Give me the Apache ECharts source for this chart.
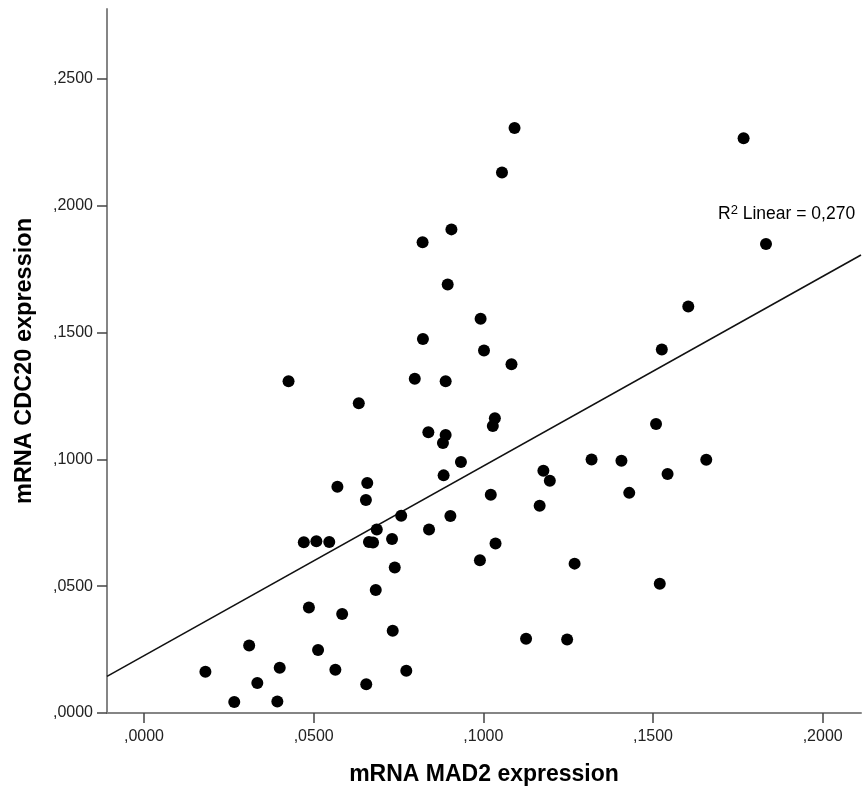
<!DOCTYPE html>
<html>
<head>
<meta charset="utf-8">
<title>mRNA MAD2 vs CDC20 expression</title>
<script src="https://cdn.jsdelivr.net/npm/echarts@6/dist/echarts.min.js"></script>
<style>
  html, body { margin: 0; padding: 0; background: #ffffff; }
  #chart { width: 864px; height: 792px; }
</style>
</head>
<body>
<div id="chart"></div>
<script>
// Sample measurements: MAD2 (x) and CDC20 (y) relative mRNA expression
const mad2 = [
  0.1092, 0.1767, 0.1055, 0.1833, 0.0906, 0.0821, 0.0895, 0.1604, 0.0992, 0.0822,
  0.1002, 0.1526, 0.1083, 0.0426, 0.0633, 0.0798, 0.0889, 0.1034, 0.1028, 0.0838,
  0.0889, 0.0881, 0.1509, 0.0934, 0.0883, 0.1319, 0.1407, 0.1657, 0.1543, 0.1177,
  0.1196, 0.1430, 0.1022, 0.1166, 0.0758, 0.0903, 0.0570, 0.0658, 0.0654, 0.0686,
  0.0840, 0.0471, 0.0508, 0.0546, 0.0663, 0.0675, 0.0731, 0.1036, 0.0990, 0.1269,
  0.0739, 0.1520, 0.0683, 0.0486, 0.0584, 0.0733, 0.1126, 0.1247, 0.0310, 0.0513,
  0.0400, 0.0181, 0.0564, 0.0773, 0.0334, 0.0655, 0.0266, 0.0393
];
const cdc20 = [
  0.2307, 0.2266, 0.2131, 0.1849, 0.1907, 0.1856, 0.1690, 0.1603, 0.1555, 0.1475,
  0.1429, 0.1433, 0.1375, 0.1308, 0.1221, 0.1318, 0.1308, 0.1162, 0.1132, 0.1107,
  0.1096, 0.1065, 0.1140, 0.0990, 0.0937, 0.1000, 0.0995, 0.0999, 0.0942, 0.0955,
  0.0916, 0.0868, 0.0861, 0.0817, 0.0778, 0.0777, 0.0892, 0.0907, 0.0840, 0.0724,
  0.0724, 0.0673, 0.0677, 0.0674, 0.0674, 0.0672, 0.0686, 0.0668, 0.0602, 0.0589,
  0.0574, 0.0510, 0.0485, 0.0416, 0.0390, 0.0324, 0.0293, 0.0290, 0.0266, 0.0248,
  0.0178, 0.0163, 0.0171, 0.0167, 0.0118, 0.0113, 0.0043, 0.0045
];

// Axis ranges and tick marks
const xRange = [-0.0109, 0.2113];
const yRange = [0, 0.2776];
const xTicks = [0, 0.05, 0.10, 0.15, 0.20];
const xTickLabels = [',0000', ',0500', ',1000', ',1500', ',2000'];
const yTicks = [0, 0.05, 0.10, 0.15, 0.20, 0.25];
const yTickLabels = [',0000', ',0500', ',1000', ',1500', ',2000', ',2500'];

const xTitle = 'mRNA MAD2 expression';
const yTitle = 'mRNA CDC20 expression';
const r2Text = '0,270';

// Ordinary least squares fit of CDC20 on MAD2
function linearFit(xs, ys) {
  const n = xs.length;
  let sx = 0, sy = 0;
  for (let i = 0; i < n; i++) { sx += xs[i]; sy += ys[i]; }
  const mx = sx / n, my = sy / n;
  let sxy = 0, sxx = 0;
  for (let i = 0; i < n; i++) {
    sxy += (xs[i] - mx) * (ys[i] - my);
    sxx += (xs[i] - mx) * (xs[i] - mx);
  }
  const slope = sxy / sxx;
  return { slope: slope, intercept: my - slope * mx };
}
const fit = linearFit(mad2, cdc20);
const fitLine = xRange.map(function (x) { return [x, fit.intercept + fit.slope * x]; });

const points = mad2.map(function (x, i) { return [x, cdc20[i]]; });

function tickFormatter(ticks, labels) {
  return function (v) {
    for (let i = 0; i < ticks.length; i++) {
      if (Math.abs(ticks[i] - v) < 1e-9) return labels[i];
    }
    return '';
  };
}

const FONT = '"Liberation Sans", Arial, sans-serif';

const axisCommon = {
  axisLine: { show: true, onZero: false, lineStyle: { color: '#858585', width: 2 } },
  axisTick: { show: true, length: 10, lineStyle: { color: '#444444', width: 1.5 } },
  splitLine: { show: false },
  nameLocation: 'middle',
  nameTextStyle: { fontFamily: FONT, fontSize: 23, fontWeight: 'bold', color: '#000000' }
};

const chart = echarts.init(document.getElementById('chart'), null, { renderer: 'canvas' });

chart.setOption({
  backgroundColor: '#ffffff',
  animation: false,
  grid: { left: 107, right: 3, top: 9, bottom: 79, containLabel: false },
  xAxis: Object.assign({}, axisCommon, {
    type: 'value',
    min: xRange[0],
    max: xRange[1],
    name: xTitle,
    nameGap: 50,
    axisTick: Object.assign({}, axisCommon.axisTick, { customValues: xTicks }),
    axisLabel: {
      customValues: xTicks,
      formatter: tickFormatter(xTicks, xTickLabels),
      margin: 16,
      fontFamily: FONT,
      fontSize: 16,
      color: '#222222'
    }
  }),
  yAxis: Object.assign({}, axisCommon, {
    type: 'value',
    min: yRange[0],
    max: yRange[1],
    name: yTitle,
    nameGap: 70,
    nameTextStyle: Object.assign({}, axisCommon.nameTextStyle, { fontSize: 23.5 }),
    axisTick: Object.assign({}, axisCommon.axisTick, { customValues: yTicks }),
    axisLabel: {
      customValues: yTicks,
      formatter: tickFormatter(yTicks, yTickLabels),
      margin: 14,
      fontFamily: FONT,
      fontSize: 16,
      color: '#222222'
    }
  }),
  series: [
    {
      name: 'Fit line',
      type: 'line',
      data: fitLine,
      symbol: 'none',
      silent: true,
      lineStyle: { color: '#111111', width: 1.6 },
      z: 1
    },
    {
      name: 'Samples',
      type: 'scatter',
      data: points,
      symbol: 'circle',
      symbolSize: 12,
      itemStyle: { color: '#000000', opacity: 1 },
      z: 2
    }
  ],
  graphic: [
    {
      type: 'text',
      left: 718,
      top: 204,
      style: {
        text: '{r|R}{sup|2}{r| Linear = ' + r2Text + '}',
        rich: {
          r: { fontFamily: FONT, fontSize: 17.5, color: '#222222', lineHeight: 21 },
          sup: { fontFamily: FONT, fontSize: 13, color: '#222222', verticalAlign: 'top', lineHeight: 13 }
        }
      }
    }
  ]
});
</script>
</body>
</html>
